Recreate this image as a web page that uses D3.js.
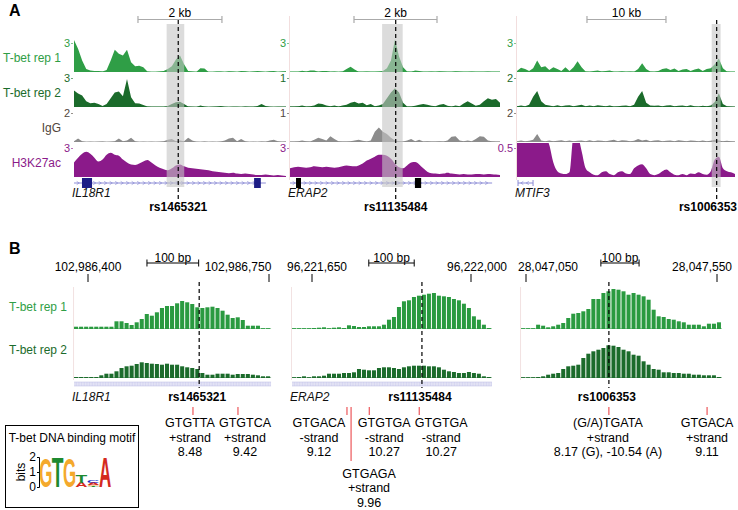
<!DOCTYPE html>
<html><head><meta charset="utf-8">
<script src="https://cdn.jsdelivr.net/npm/d3@7/dist/d3.min.js"></script>
<style>
html,body{margin:0;padding:0;background:#fff;}
svg{display:block;}
text{font-family:"Liberation Sans",Arial,Helvetica,sans-serif;}
</style></head><body>
<svg id="chart" width="738" height="510"></svg>
<script>
// ================= DATA =================
// ---- Panel A ----
const trackNames = ["T-bet rep 1","T-bet rep 2","IgG","H3K27ac"];
const geneNamesA = ["IL18R1","ERAP2","MTIF3"];
const snpNames = ["rs1465321","rs11135484","rs1006353"];
const scaleBarLabelsA = ["2 kb","2 kb","10 kb"];
const trackMaxA = [[3,3,2,3],[3,1,1,3],[3,2,2,0.5]];
const spanKbA = [5.05,5.06,27.6];
const snpKbA = [2.483,2.547,25.28];
const highlightKbA = [[2.207,2.626],[2.22,2.715],[24.65,25.78]];
const scaleBarKbA = [[1.524,2],[1.542,2],[8.86,10]];
const geneSpanKbA = [[0,4.57],[0,4.87],[0.13,2.03]];
const exonKbA = [[[0.19,0.43],[4.29,4.45]],[[0.145,0.265],[3.01,3.16]],[]];
const geneStrandA = [1,1,-1];

const p1Rep1 = [3.3,2.4,1.2,0.3,0.15,0.1,0.1,0.05,0.2,1.2,2.3,1.9,1.7,2.3,1.0,0.6,0.65,0.5,0.05,0,0,0.05,0.1,0.3,0.6,1.3,1.7,0.8,0.1,0.05,0,0.4,0.35,0,0,0.05,0.05,0,0.08,0.05,0,0.1,0.08,0,0.05,0.1,0.05,0,0.08,0.1,0,0.05,0.08];
const p1Rep2 = [1.7,1.4,1.2,0.6,0.4,0.45,0.3,0.1,0.3,0.9,1.5,1.6,1.1,2.9,1.0,0.4,0.35,0.2,0.05,0.02,0.02,0.02,0.02,0.1,0.3,0.5,0.55,0.3,0.05,0.02,0,0.15,0.05,0,0.02,0.05,0.1,0.02,0,0.03,0.02,0,0.05,0.03,0.02,0.1,0.3,0.1,0.02,0,0.03,0.02,0.02];
const p1IgG = [0.05,0.25,0.05,0,0.02,0,0.02,0.03,0,0.02,0.05,0.25,0.05,0.1,0.3,0.05,0,0.02,0,0.02,0,0.02,0.05,0.15,0.2,0.05,0.1,0.05,0.3,0.1,0.02,0,0.03,0,0.02,0,0.03,0.1,0.25,0.3,0.05,0.2,0.05,0,0.02,0,0.03,0.02,0.1,0.15,0.05,0.02,0.03];
const p1H3 = [1.5,2.0,2.4,2.6,2.4,2.0,1.6,1.8,2.3,2.5,2.3,2.2,1.8,1.5,1.3,1.25,1.4,1.6,1.75,1.5,1.2,0.95,0.8,0.7,0.9,1.2,1.3,1.1,0.95,0.9,0.85,0.8,0.75,0.7,0.6,0.55,0.5,0.45,0.4,0.45,0.35,0.3,0.35,0.3,0.25,0.2,0.2,0.25,0.2,0.15,0.2,0.15,0.1];

const p2Rep1 = [0.02,0.02,0.02,0.12,0.05,0.15,0.15,0.02,0.1,0.1,0.02,0.05,0,0.05,0.3,0.55,0.25,0.02,0.02,0.05,0.02,0.02,0.05,0.1,0.4,1.2,3.4,1.6,0.5,0.05,0.02,0.15,0.1,0.02,0.02,0.05,0.02,0.08,0.05,0.02,0.02,0.08,0.06,0.02,0.02,0.05,0.02,0.03,0.02,0.05,0.02,0.02,0.03];
const p2Rep2 = [0.02,0.02,0.03,0.05,0.02,0.03,0.05,0.12,0.1,0.05,0.03,0.05,0.02,0.05,0.08,0.15,0.18,0.12,0.15,0.06,0.1,0.03,0.05,0.1,0.3,0.5,0.65,0.5,0.15,0.02,0.02,0.04,0.08,0.1,0.08,0.04,0.03,0.08,0.1,0.04,0.02,0.05,0.03,0.12,0.2,0.12,0.04,0.08,0.2,0.3,0.25,0.28,0.15];
const p2IgG = [0.02,0.02,0.03,0.05,0.03,0.02,0.08,0.15,0.1,0.05,0.2,0.1,0.03,0.02,0.02,0.03,0.05,0.08,0.04,0.02,0.05,0.35,0.5,0.35,0.28,0.15,0.05,0.03,0.02,0.05,0.1,0.03,0.08,0.02,0.03,0.02,0.02,0.03,0.02,0.05,0.18,0.2,0.05,0.03,0.05,0.03,0.1,0.2,0.18,0.05,0.03,0.02,0.02];
const p2H3 = [0.9,1.0,1.05,1.0,0.95,1.0,1.1,1.05,1.0,1.05,1.0,0.95,1.0,1.1,1.2,1.15,1.1,1.2,1.4,1.7,1.9,2.1,2.3,2.3,2.2,1.9,1.4,1.0,0.9,1.2,1.5,1.55,1.3,0.9,0.55,0.4,0.35,0.3,0.35,0.45,0.35,0.3,0.25,0.3,0.25,0.25,0.3,0.3,0.25,0.3,0.28,0.25,0.2];

const p3Rep1 = [0.1,0.45,0.3,0.1,0.4,1.2,0.5,0.6,0.2,0.5,0.3,0.1,0.5,0.1,0.5,1.1,0.5,0.05,0.02,0.1,0.15,0.05,0.1,0.15,0.02,0.03,0.08,0.02,0.05,0.03,0.3,0.9,0.3,0.05,0.02,0.1,0.3,0.4,0.2,0.35,0.1,0.25,0.3,0.1,0.25,0.35,0.1,0.3,0.4,0.8,1.4,0.4,0.05,0.03,0.02];
const p3Rep2 = [0.05,0.1,0.05,0.15,0.7,1.1,0.4,0.15,0.1,0.05,0.12,0.05,0.1,0.12,0.05,0.1,0.15,0.05,0.1,0.05,0.12,0.08,0.05,0.1,0.03,0.05,0.08,0.1,0.05,0.15,0.7,1.1,0.3,0.1,0.08,0.1,0.05,0.1,0.12,0.05,0.08,0.1,0.05,0.12,0.05,0.03,0.08,0.05,0.1,0.35,0.95,0.2,0.05,0.03,0.02];
const p3IgG = [0.05,0.1,0.05,0.08,0.15,0.55,0.1,0.05,0.1,0.05,0.08,0.12,0.05,0.1,0.05,0.08,0.1,0.05,0.12,0.05,0.1,0.08,0.05,0.1,0.15,0.05,0.12,0.1,0.05,0.08,0.2,0.1,0.15,0.05,0.1,0.12,0.05,0.08,0.1,0.05,0.12,0.08,0.05,0.1,0.08,0.05,0.1,0.05,0.08,0.15,0.1,0.05,0.08,0.05,0.03];
const p3H3 = [0.7,0.7,0.7,0.7,0.7,0.7,0.7,0.7,0.55,0.25,0.1,0.06,0.05,0.08,0.7,0.7,0.45,0.15,0.08,0.04,0.03,0.08,0.1,0.05,0.03,0.08,0.1,0.06,0.05,0.15,0.2,0.22,0.15,0.05,0.03,0.05,0.1,0.13,0.08,0.04,0.03,0.05,0.03,0.06,0.05,0.08,0.05,0.04,0.1,0.3,0.35,0.15,0.1,0.08,0.05];

// ---- Panel B ----
const coordTicksB = [[102986400,102986750],[96221650,96222000],[28047050,28047550]];
const trackSpanB = [[102986373,102986754],[96221606,96222046],[28047037,28047563]];
const snpPosB = [102986615,96221892,28047267];
const scaleBarStartB = [102986514,96221775,28047246];
const scaleBarBpB = 100;
const geneNamesB = ["IL18R1","ERAP2",""];

const b1Rep1 = [2.3,2.3,2.3,2.3,2.3,2.3,2.3,2.3,7.7,7.7,6,4,6.7,10,15,13.3,16.7,21,23,23,25.7,28,26.7,25,21.7,21,21.7,22.3,21,18.3,14.3,11,11.7,9,3.3,3.3,3.3,0.7,0.7];
const b1Rep2 = [1,1,1,1,1,2.7,4.3,4.3,6.7,10,11.7,12.3,14,15.7,15,14.3,14,13.3,14.3,13.3,13.3,11.7,10.7,10,9,5,3.3,3.3,4.3,4.3,4.3,3.3,4,4,4,3.3,2.7,1.7,1.7];
const b2Rep1 = [0.3,0.3,0.5,0.5,1,1.3,1.7,0.5,1.3,1.7,1,3.7,3,2,2,2.7,2.7,2.7,4.3,9.3,12,22,27.7,28.7,32,33.3,34.3,35.3,36,33.3,32.7,32,30,28.7,25.3,21,12.7,9.3,4.3,1];
const b2Rep2 = [0.7,1,1.7,0.5,1.7,1.7,2.3,4.3,4.3,4.3,5,5,5.7,9,8.3,7.7,7.7,10,10.7,10.7,10,9,10.7,11.7,12.3,12.3,12.3,11.7,11.7,10.7,8.3,6.7,6,5,5,6,5,4.3,1.7,1];
const b3Rep1 = [0.3,0.3,0.3,4.3,3.3,1.7,2.7,4.3,6,11,15.3,16,17.7,20,30,30,36,37.7,40,39.3,37.7,34.3,36,34.3,32.7,29.3,19.3,12.7,12,10,9.3,7.7,6.7,4.3,4.3,4.3,2.7,5.3,5.3,6.7];
const b3Rep2 = [0,0,0.7,1,1.7,3.3,4.3,5,9,11.7,12.3,13.3,20,24.3,26.7,28.3,30,32.7,32.3,31,28.3,26.7,23.3,22.3,16.7,13.3,9,8.3,5.7,5.7,5,5,4.3,4.3,3.3,3.3,2.7,2.7,2.7,1];

const motifPos = [[102986603,102986690],[96221727,96221736,96221776,96221886],[28047267,28047524]];
const motifSeq = [["GTGTTA","GTGTCA"],["GTGACA","GTGAGA","GTGTGA","GTGTGA"],["(G/A)TGATA","GTGACA"]];
const motifStrand = [["+strand","+strand"],["-strand","+strand","-strand","-strand"],["+strand","+strand"]];
const motifScore = [["8.48","9.42"],["9.12","9.96","10.27","10.27"],["8.17 (G), -10.54 (A)","9.11"]];

// ---- Motif logo ----
const logoTitle = "T-bet DNA binding motif";
const logoTicks = [0,1,2];
const logoColumns = [
  [["G",1.95]],
  [["T",1.95]],
  [["G",1.95]],
  [["A",0.3],["T",0.55]],
  [["T",0.06],["G",0.08],["A",0.12],["C",0.14]],
  [["A",1.95]]
];

// ================= LAYOUT / STYLE =================
const svg = d3.select("#chart");
const trackColors = ["#2f9e46","#1b6b2b","#8c8c8c","#8b1a8a"];
const labelColors = ["#2f9e46","#1b6b2b","#51463c","#8b1a8a"];
const panelX = [[74,286],[290,500],[517,735]];
const rowBase = [72,107,142,177];
const rowH = 29;
const geneY = 183;
const dataA = [[p1Rep1,p1Rep2,p1IgG,p1H3],[p2Rep1,p2Rep2,p2IgG,p2H3],[p3Rep1,p3Rep2,p3IgG,p3H3]];
const smoothA = [false,false,false,true];
const exonColors = ["#1d1d86","#000","#000"];
const geneColor = "#8c8cd6";

svg.append("rect").attr("width",738).attr("height",510).attr("fill","#fff");

svg.append("text").text("A").attr("x",9).attr("y",16).attr("font-size",16).attr("font-weight","bold");
svg.append("text").text("B").attr("x",9).attr("y",254).attr("font-size",16).attr("font-weight","bold");

trackNames.forEach((t,i)=>{
  svg.append("text").text(t).attr("x",61).attr("y",rowBase[i]-15+4.5)
    .attr("text-anchor","end").attr("font-size",12).attr("fill",labelColors[i]);
});

const defs = svg.append("defs");

panelX.forEach((px,pi)=>{
  const x = d3.scaleLinear().domain([0,spanKbA[pi]]).range(px);
  const g = svg.append("g");
  if (pi>0) g.append("line").attr("x1",px[0]-0.5).attr("x2",px[0]-0.5).attr("y1",16).attr("y2",180)
      .attr("stroke","#f2dede").attr("stroke-width",1);
  dataA[pi].forEach((vals,ri)=>{
    const base = rowBase[ri];
    const y = d3.scaleLinear().domain([0,trackMaxA[pi][ri]]).range([base, base-rowH]);
    const cid = `clipA${pi}_${ri}`;
    defs.append("clipPath").attr("id",cid).append("rect")
      .attr("x",px[0]).attr("y",base-34).attr("width",px[1]-px[0]).attr("height",34.5);
    const n = vals.length;
    const area = d3.area()
      .x((d,i)=>x(i*spanKbA[pi]/(n-1)))
      .y0(base).y1(d=>y(d))
      .curve(smoothA[ri] ? d3.curveMonotoneX : d3.curveLinear);
    g.append("line").attr("x1",px[0]).attr("x2",px[1]).attr("y1",base-0.5).attr("y2",base-0.5)
      .attr("stroke",trackColors[ri]).attr("stroke-width",0.8).attr("opacity",0.55);
    g.append("path").datum(vals).attr("d",area).attr("fill",trackColors[ri]).attr("clip-path",`url(#${cid})`);
    const ax = d3.axisLeft(y).tickValues([trackMaxA[pi][ri]]).tickSize(2).tickPadding(1).tickFormat(d=>String(d));
    const ag = g.append("g").attr("transform",`translate(${px[0]-1},0)`).call(ax);
    ag.select(".domain").remove();
    ag.selectAll("line").attr("stroke",labelColors[ri]).attr("stroke-width",0.6);
    ag.selectAll("text").attr("fill",labelColors[ri]).attr("font-size",11)
      .attr("font-family",'"Liberation Sans",Arial,sans-serif');
  });
  const gs = geneSpanKbA[pi];
  g.append("line").attr("x1",x(gs[0])).attr("x2",x(gs[1])).attr("y1",geneY).attr("y2",geneY)
    .attr("stroke",geneColor).attr("stroke-width",1);
  const dir = geneStrandA[pi];
  const step = 5.5;
  for (let cx = x(gs[0])+4; cx < x(gs[1])-2; cx += step) {
    g.append("path").attr("d",`M${cx-1.3*dir},${geneY-1.6} L${cx+1.3*dir},${geneY} L${cx-1.3*dir},${geneY+1.6}`)
      .attr("fill","none").attr("stroke",geneColor).attr("stroke-width",0.7);
  }
  if (pi===2) {
    [gs[0],gs[1]].forEach(v=>g.append("line").attr("x1",x(v)).attr("x2",x(v)).attr("y1",geneY-3).attr("y2",geneY+3)
      .attr("stroke",geneColor).attr("stroke-width",1));
  }
  exonKbA[pi].forEach(e=>{
    g.append("rect").attr("x",x(e[0])).attr("width",x(e[1])-x(e[0])).attr("y",geneY-5).attr("height",10)
      .attr("fill",exonColors[pi]);
  });
  g.append("text").text(geneNamesA[pi]).attr("x",px[0]-2).attr("y",197).attr("font-size",12)
    .attr("font-style","italic").attr("fill","#111");
  const hl = highlightKbA[pi];
  g.append("rect").attr("x",x(hl[0])).attr("width",x(hl[1])-x(hl[0])).attr("y",24).attr("height",163)
    .attr("fill","#c4c4c4").attr("opacity",0.6);
  const sx = x(snpKbA[pi]);
  g.append("line").attr("x1",sx).attr("x2",sx).attr("y1",20).attr("y2",200)
    .attr("stroke","#000").attr("stroke-width",1.2).attr("stroke-dasharray","4,3");
  const st = g.append("text").text(snpNames[pi]).attr("y",211).attr("font-size",12).attr("font-weight","bold")
    .attr("text-anchor","middle");
  const w = st.node().getComputedTextLength();
  st.attr("x", Math.min(sx, 737 - w/2));
  const sb = scaleBarKbA[pi];
  const bx0 = x(sb[0]), bx1 = x(sb[0]+sb[1]);
  g.append("line").attr("x1",bx0).attr("x2",bx1).attr("y1",19.5).attr("y2",19.5).attr("stroke","#aaa").attr("stroke-width",1.2);
  [bx0,bx1].forEach(v=>g.append("line").attr("x1",v).attr("x2",v).attr("y1",16).attr("y2",23).attr("stroke","#aaa").attr("stroke-width",1.2));
  g.append("text").text(scaleBarLabelsA[pi]).attr("x",(bx0+bx1)/2).attr("y",16.5).attr("text-anchor","middle").attr("font-size",12);
});

// ================= PANEL B =================
const coordTickX = [[88,269],[312,471],[526,717]];
const coordLabelDx = [[0,-31],[5,6],[22,-15]];
const dataB = [[b1Rep1,b1Rep2],[b2Rep1,b2Rep2],[b3Rep1,b3Rep2]];
const baseB = [329,378];
const barColors = ["#2a9a40","#1b6b2b"];
const motifLabelDx = [[-3,7],[-28,18,15,22],[-1,0]];
const motifRow = [[0,0],[0,1,0,0],[0,0]];
const motifColor = "#e8363a";

["T-bet rep 1","T-bet rep 2"].forEach((t,i)=>{
  svg.append("text").text(t).attr("x",67).attr("y",[311,354][i]).attr("text-anchor","end")
    .attr("font-size",12).attr("fill",labelColors[i]);
});

coordTicksB.forEach((ct,pi)=>{
  const x = d3.scaleLinear().domain(ct).range(coordTickX[pi]);
  const g = svg.append("g");
  const span = trackSpanB[pi];
  ct.forEach((c,k)=>{
    g.append("line").attr("x1",x(c)).attr("x2",x(c)).attr("y1",274).attr("y2",282).attr("stroke","#000").attr("stroke-width",1);
    g.append("text").text(d3.format(",")(c)).attr("x",x(c)+coordLabelDx[pi][k]).attr("y",271)
      .attr("text-anchor","middle").attr("font-size",12);
  });
  const s0 = x(scaleBarStartB[pi]), s1 = x(scaleBarStartB[pi]+scaleBarBpB);
  g.append("line").attr("x1",s0).attr("x2",s1).attr("y1",263).attr("y2",263).attr("stroke","#000");
  [s0,s1].forEach(v=>g.append("line").attr("x1",v).attr("x2",v).attr("y1",259.5).attr("y2",266.5).attr("stroke","#000"));
  g.append("text").text("100 bp").attr("x",(s0+s1)/2).attr("y",261.5).attr("text-anchor","middle").attr("font-size",12);
  g.append("line").attr("x1",x(span[0])-0.5).attr("x2",x(span[0])-0.5).attr("y1",287).attr("y2",380)
    .attr("stroke","#f2e2e2");
  dataB[pi].forEach((vals,ri)=>{
    const base = baseB[ri];
    const y = d3.scaleLinear().domain([0,40]).range([base, base-40]);
    const n = vals.length, stepBp = (span[1]-span[0])/n;
    g.append("line").attr("x1",x(span[0])).attr("x2",x(span[1])).attr("y1",base-0.4).attr("y2",base-0.4)
      .attr("stroke",barColors[ri]).attr("stroke-width",0.8).attr("opacity",0.6);
    g.selectAll(null).data(vals).enter().append("rect")
      .attr("x",(d,i)=>x(span[0]+i*stepBp))
      .attr("width",(d,i)=>Math.max(0.5, x(span[0]+(i+1)*stepBp)-x(span[0]+i*stepBp)-1))
      .attr("y",d=>Math.min(y(d), base-0.8))
      .attr("height",d=>Math.max(0.8, base-y(d)))
      .attr("fill",barColors[ri]);
  });
  if (geneNamesB[pi]) {
    const gx0 = x(span[0]), gx1 = x(span[1]);
    g.append("rect").attr("x",gx0).attr("y",382).attr("width",gx1-gx0).attr("height",4)
      .attr("fill","#ececf8");
    g.append("line").attr("x1",gx0).attr("x2",gx1).attr("y1",382).attr("y2",382).attr("stroke","#c8c8ea").attr("stroke-width",0.6);
    g.append("line").attr("x1",gx0).attr("x2",gx1).attr("y1",386).attr("y2",386).attr("stroke","#c8c8ea").attr("stroke-width",0.6);
    for (let hx = gx0+1; hx < gx1; hx += 1.6) {
      g.append("line").attr("x1",hx).attr("x2",hx).attr("y1",382).attr("y2",386)
        .attr("stroke","#bcbce6").attr("stroke-width",0.45);
    }
    g.append("text").text(geneNamesB[pi]).attr("x",gx0-2).attr("y",401).attr("font-size",12)
      .attr("font-style","italic").attr("fill","#111");
  }
  const sx = x(snpPosB[pi]);
  g.append("line").attr("x1",sx).attr("x2",sx).attr("y1",282).attr("y2",388)
    .attr("stroke","#000").attr("stroke-width",1.2).attr("stroke-dasharray","4,3");
  g.append("text").text(snpNames[pi]).attr("x",sx-2).attr("y",401).attr("text-anchor","middle")
    .attr("font-size",12).attr("font-weight","bold");
  motifPos[pi].forEach((mp,k)=>{
    const mx = x(mp);
    const row = motifRow[pi][k];
    g.append("line").attr("x1",mx).attr("x2",mx).attr("y1",407).attr("y2",row ? 461 : 415)
      .attr("stroke",motifColor).attr("stroke-width",1);
    const lx = mx + motifLabelDx[pi][k];
    const y0 = row ? 477.5 : 427;
    [motifSeq[pi][k], motifStrand[pi][k], motifScore[pi][k]].forEach((t,j)=>{
      g.append("text").text(t).attr("x",lx).attr("y",y0+j*14.5).attr("text-anchor","middle").attr("font-size",12.5);
    });
  });
});

// ================= LOGO =================
const lg = svg.append("g");
lg.append("rect").attr("x",5.5).attr("y",425.5).attr("width",133).attr("height",82)
  .attr("fill","#fff").attr("stroke","#000").attr("stroke-width",1);
lg.append("text").text(logoTitle).attr("x",72).attr("y",442).attr("text-anchor","middle").attr("font-size",12);
const by = d3.scaleLinear().domain([0,2]).range([487,457]);
const bxs = d3.scaleBand().domain(d3.range(logoColumns.length)).range([40,111]).paddingInner(0.03);
const lax = lg.append("g").attr("transform","translate(39,0)")
  .call(d3.axisLeft(by).tickValues(logoTicks).tickSize(2).tickPadding(1).tickFormat(d3.format("d")));
lax.selectAll("text").attr("font-size",12).attr("font-family",'"Liberation Sans",Arial,sans-serif');
lax.select(".domain").attr("stroke","#000");
lg.append("text").text("bits").attr("transform","translate(25,472) rotate(-90)").attr("text-anchor","middle").attr("font-size",12);
const letterColors = {A:"#d42a1e",C:"#2030c8",G:"#f4a92c",T:"#1e8a30"};
const ctx = document.createElement("canvas").getContext("2d");
ctx.font = 'bold 100px "Liberation Sans", Arial, sans-serif';
logoColumns.forEach((col,ci)=>{
  let cum = 0;
  col.forEach(([ch,h])=>{
    const m = ctx.measureText(ch);
    const gw = m.actualBoundingBoxLeft + m.actualBoundingBoxRight;
    const gh = m.actualBoundingBoxAscent + m.actualBoundingBoxDescent;
    const yb = by(cum), yt = by(cum+h);
    const sxs = bxs.bandwidth()/gw, sys = (yb-yt)/gh;
    lg.append("text").text(ch).attr("font-size",100).attr("font-weight","bold")
      .attr("fill",letterColors[ch])
      .attr("transform",`translate(${bxs(ci)},${yb}) scale(${sxs},${sys}) translate(${m.actualBoundingBoxLeft},${-m.actualBoundingBoxDescent})`);
    cum += h;
  });
});
</script>
</body></html>
